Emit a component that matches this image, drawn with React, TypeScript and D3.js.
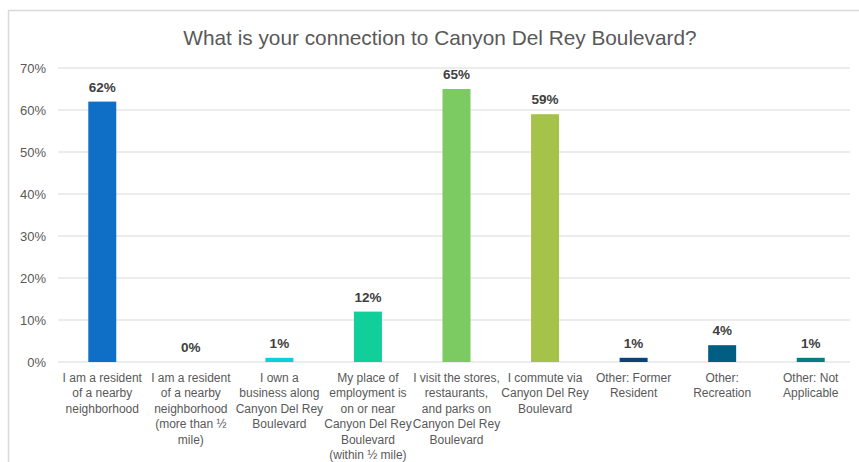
import React from "react";
import * as d3 from "d3";

const title = "What is your connection to Canyon Del Rey Boulevard?";
const categories = [
  ["I am a resident", "of a nearby", "neighborhood"],
  ["I am a resident", "of a nearby", "neighborhood", "(more than ½", "mile)"],
  ["I own a", "business along", "Canyon Del Rey", "Boulevard"],
  ["My place of", "employment is", "on or near", "Canyon Del Rey", "Boulevard", "(within ½ mile)"],
  ["I visit the stores,", "restaurants,", "and parks on", "Canyon Del Rey", "Boulevard"],
  ["I commute via", "Canyon Del Rey", "Boulevard"],
  ["Other: Former", "Resident"],
  ["Other:", "Recreation"],
  ["Other: Not", "Applicable"],
];
const values = [62, 0, 1, 12, 65, 59, 1, 4, 1];
const colors = ["#0F6FC6", "#009DD9", "#0BD0D9", "#10CF9B", "#7CCA62", "#A5C249", "#094377", "#005E82", "#077D82"];
const yTicks = [0, 10, 20, 30, 40, 50, 60, 70];

const W = 859, H = 462;
const font = "'Liberation Sans Narrow', 'Arial Narrow', 'Liberation Sans', sans-serif";

export default function App() {
  const x = d3.scaleBand<number>().domain(d3.range(values.length)).range([58, 855]).paddingInner(0.684).paddingOuter(0.342);
  const y = d3.scaleLinear().domain([0, 70]).range([362, 68]);
  return (
    <svg width={W} height={H} style={{ position: "absolute", left: 0, top: 0, background: "#fff" }} fontFamily={font}>
      <rect x={0} y={0} width={W} height={H} fill="#fff" />
      <line x1={8} x2={W} y1={10.5} y2={10.5} stroke="#D9D9D9" strokeWidth={1.5} />
      <line x1={8.5} x2={8.5} y1={10} y2={H} stroke="#D9D9D9" strokeWidth={1.5} />
      <text x={440} y={45} textAnchor="middle" fontSize={20.8} fill="#595959">{title}</text>
      {yTicks.map((t) => (
        <g key={t}>
          <line x1={58} x2={850} y1={y(t)} y2={y(t)} stroke="#D9D9D9" strokeWidth={1} />
          <text x={46} y={y(t) + 4.5} textAnchor="end" fontSize={13} fill="#595959">{t}%</text>
        </g>
      ))}
      {values.map((v, i) => (
        <g key={i}>
          <rect x={x(i)} y={y(v)} width={x.bandwidth()} height={y(0) - y(v)} fill={colors[i]} />
          <text x={(x(i) as number) + x.bandwidth() / 2} y={y(v) - 10} textAnchor="middle" fontSize={13.5} fontWeight="bold" fill="#404040">{v}%</text>
          <text textAnchor="middle" fontSize={12} fill="#595959">
            {categories[i].map((l, j) => (
              <tspan key={j} x={(x(i) as number) + x.bandwidth() / 2} y={382 + j * 15.4}>{l}</tspan>
            ))}
          </text>
        </g>
      ))}
    </svg>
  );
}
